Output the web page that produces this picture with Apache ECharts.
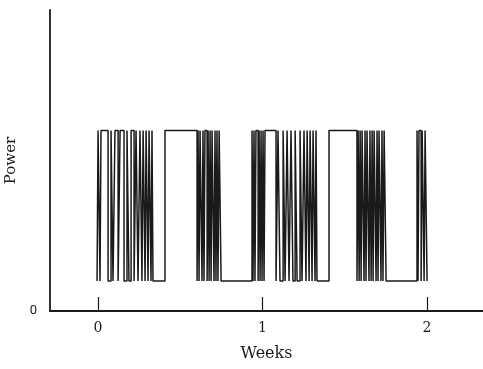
<!DOCTYPE html>
<html>
<head>
<meta charset="utf-8">
<script src="https://cdn.jsdelivr.net/npm/echarts@6/dist/echarts.min.js"></script>
<style>
  html, body { margin: 0; padding: 0; background: #fff; }
  #chart { width: 483px; height: 369px; }
</style>
</head>
<body>
<div id="chart"></div>
<script>
// switching instants of the power signal (weeks) and the level held after each one
const HIGH = 0.6;
const LOW = 0.1;
const switchWeeks = [
  -0.006, 0.000, 0.012, 0.018, 0.061, 0.079, 0.091, 0.103, 0.122, 0.134,
  0.158, 0.176, 0.188, 0.201, 0.219, 0.231, 0.243, 0.255, 0.267, 0.274,
  0.286, 0.292, 0.304, 0.310, 0.322, 0.328, 0.334, 0.407, 0.602, 0.608,
  0.614, 0.620, 0.632, 0.638, 0.644, 0.650, 0.663, 0.669, 0.675, 0.681,
  0.687, 0.693, 0.705, 0.711, 0.717, 0.723, 0.729, 0.736, 0.748, 0.936,
  0.942, 0.948, 0.954, 0.960, 0.973, 0.979, 0.985, 0.991, 0.997, 1.003,
  1.009, 1.015, 1.082, 1.094, 1.106, 1.125, 1.137, 1.149, 1.161, 1.173,
  1.185, 1.198, 1.210, 1.228, 1.240, 1.252, 1.264, 1.271, 1.283, 1.289,
  1.301, 1.307, 1.319, 1.325, 1.331, 1.404, 1.574, 1.581, 1.587, 1.593,
  1.599, 1.605, 1.617, 1.623, 1.629, 1.635, 1.647, 1.653, 1.660, 1.666,
  1.672, 1.678, 1.690, 1.696, 1.702, 1.708, 1.720, 1.726, 1.732, 1.739,
  1.751, 1.939, 1.945, 1.951, 1.964, 1.970, 1.982, 1.988, 2.000
];
const powerAfter = [
  LOW, HIGH, LOW, HIGH, LOW, HIGH, LOW, HIGH, LOW, HIGH,
  LOW, HIGH, LOW, HIGH, LOW, HIGH, LOW, HIGH, LOW, HIGH,
  LOW, HIGH, LOW, HIGH, LOW, HIGH, LOW, HIGH, LOW, HIGH,
  LOW, HIGH, LOW, HIGH, LOW, HIGH, LOW, HIGH, LOW, HIGH,
  LOW, HIGH, LOW, HIGH, LOW, HIGH, LOW, HIGH, LOW, HIGH,
  LOW, HIGH, LOW, HIGH, LOW, HIGH, LOW, HIGH, LOW, HIGH,
  LOW, HIGH, LOW, HIGH, LOW, HIGH, LOW, HIGH, LOW, HIGH,
  LOW, HIGH, LOW, HIGH, LOW, HIGH, LOW, HIGH, LOW, HIGH,
  LOW, HIGH, LOW, HIGH, LOW, HIGH, LOW, HIGH, LOW, HIGH,
  LOW, HIGH, LOW, HIGH, LOW, HIGH, LOW, HIGH, LOW, HIGH,
  LOW, HIGH, LOW, HIGH, LOW, HIGH, LOW, HIGH, LOW, HIGH,
  LOW, HIGH, LOW, HIGH, LOW, HIGH, LOW, HIGH, LOW
];
const xTicks = [0, 1, 2];
const yTicks = [0];

const chart = echarts.init(document.getElementById('chart'));
const serif = '"DejaVu Serif", "Liberation Serif", serif';
const ink = '#1a1a1a';

chart.setOption({
  animation: false,
  grid: { left: 50, right: 0, top: 10, bottom: 58, containLabel: false, outerBoundsMode: 'none' },
  xAxis: {
    type: 'value', min: -0.292, max: 2.34,
    name: 'Weeks', nameLocation: 'middle', nameGap: 35,
    nameTextStyle: { fontFamily: serif, fontSize: 16, color: ink, letterSpacing: 2 },
    axisLine: { show: true, onZero: false, lineStyle: { color: ink, width: 1.8 } },
    axisTick: { show: true, inside: true, length: 14, customValues: xTicks, lineStyle: { color: ink, width: 1.2 } },
    axisLabel: { customValues: xTicks, margin: 10, fontFamily: serif, fontSize: 14, color: ink },
    splitLine: { show: false }
  },
  yAxis: {
    type: 'value', min: 0, max: 1,
    name: 'Power', nameLocation: 'middle', nameGap: 23, nameRotate: 90,
    nameTextStyle: { fontFamily: serif, fontSize: 15, color: ink, letterSpacing: 2 },
    axisLine: { show: true, onZero: false, lineStyle: { color: ink, width: 1.8 } },
    axisTick: { show: false },
    axisLabel: { customValues: yTicks, margin: 13, fontFamily: 'Roboto, sans-serif', fontSize: 13, color: ink },
    splitLine: { show: false }
  },
  series: [{
    type: 'line',
    step: 'end',
    showSymbol: false,
    data: switchWeeks.map((w, i) => [w, powerAfter[i]]),
    lineStyle: { color: ink, width: 1.5 }
  }]
});
</script>
</body>
</html>
